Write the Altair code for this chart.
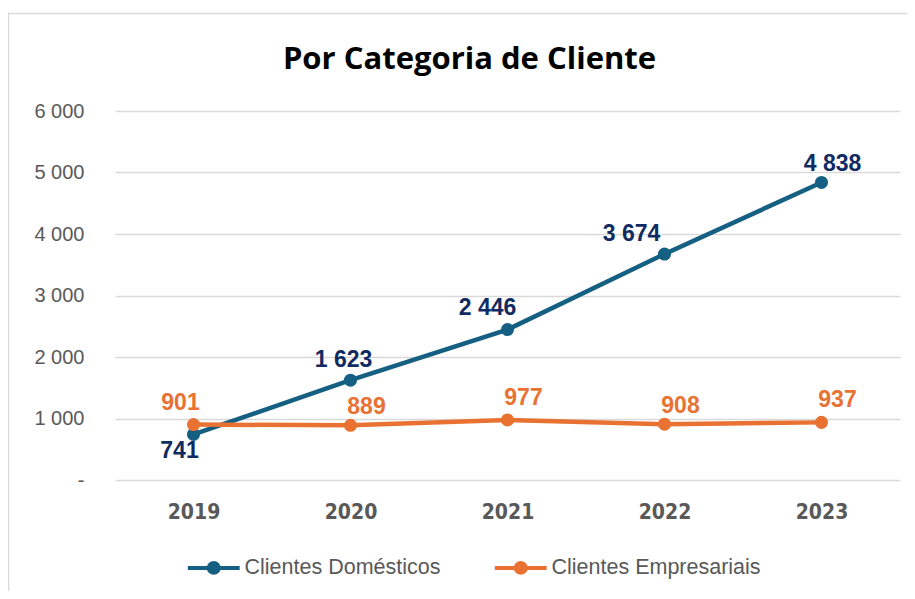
import altair as alt
import pandas as pd

# ---- data ----
years = ["2019", "2020", "2021", "2022", "2023"]
series_names = ["Clientes Domésticos", "Clientes Empresariais"]
domesticos = [741, 1623, 2446, 3674, 4838]
empresariais = [901, 889, 977, 908, 937]
y_ticks = [0, 1000, 2000, 3000, 4000, 5000, 6000]

rows = []
for s, vals in zip(series_names, [domesticos, empresariais]):
    for yr, v in zip(years, vals):
        rows.append({"Ano": yr, "Serie": s, "Valor": v,
                     "Label": f"{v:,}".replace(",", " ")})
df = pd.DataFrame(rows)

# ---- style ----
line_colors = ["#156082", "#E97132"]
label_colors = {"Clientes Domésticos": "#0F2B62", "Clientes Empresariais": "#E97132"}
# label offsets (dx, dy) per series, per year
label_offsets = {
    "Clientes Domésticos": [(-14, 17), (-7, -20), (-20, -22), (-33, -20), (11, -18)],
    "Clientes Empresariais": [(-13, -22), (16, -18), (16, -22), (16, -18), (16, -22)],
}

W, H = 785, 369
legend_path = (
    "M-3.7,0 L3.7,0 "
    "M0.71,0 A0.71,0.71 0 1,1 -0.71,0 A0.71,0.71 0 1,1 0.71,0 "
    "M0.22,0 A0.22,0.22 0 1,1 -0.22,0 A0.22,0.22 0 1,1 0.22,0"
)

x_enc = alt.X("Ano:N", sort=years,
              scale=alt.Scale(padding=0.5),
              axis=alt.Axis(title=None, domain=False, ticks=False, grid=False,
                            labelAngle=0,
                            labelFont="'DejaVu Sans Condensed', 'Liberation Sans'",
                            labelFontWeight="bold", labelFontSize=21,
                            labelColor="#595959", labelPadding=21))
y_enc = alt.Y("Valor:Q",
              scale=alt.Scale(domain=[0, 6000], nice=False),
              axis=alt.Axis(title=None, domain=False, ticks=False,
                            values=y_ticks, gridColor="#D9D9D9", gridWidth=1.5,
                            labelFont="Liberation Sans", labelFontSize=20,
                            labelColor="#595959", labelPadding=31,
                            labelExpr="datum.value == 0 ? '-    ' : replace(format(datum.value, ',d'), ',', ' ')"))
color_scale = alt.Scale(domain=series_names, range=line_colors)

base = alt.Chart(df).encode(x=x_enc, y=y_enc)

border = alt.Chart(pd.DataFrame({"k": [0]})).mark_rect(
    fill="transparent", stroke="#D9D9D9", strokeWidth=1.5
).encode(x=alt.value(-106.5), x2=alt.value(W + 200),
         y=alt.value(-97.5), y2=alt.value(H + 300))

lines = base.mark_line(strokeWidth=4.5).encode(
    color=alt.Color("Serie:N", scale=color_scale, sort=series_names,
                    legend=alt.Legend(title=None, orient="none", direction="horizontal",
                                      legendX=88, legendY=446,
                                      symbolType=legend_path, symbolSize=196,
                                      symbolStrokeWidth=4, labelOffset=20,
                                      columnPadding=45, labelLimit=400,
                                      labelFont="Liberation Sans", labelFontSize=21.5,
                                      labelColor="#595959"))
)
points = base.mark_point(filled=True, size=170, opacity=1).encode(
    color=alt.Color("Serie:N", scale=color_scale, legend=None)
)

label_layers = []
for s in series_names:
    for yr, (dx, dy) in zip(years, label_offsets[s]):
        label_layers.append(
            base.transform_filter((alt.datum.Serie == s) & (alt.datum.Ano == yr))
            .mark_text(dx=dx, dy=dy, font="Liberation Sans", fontWeight="bold",
                       fontSize=23, color=label_colors[s], align="center",
                       baseline="middle")
            .encode(text="Label:N")
        )

chart = alt.layer(border, lines, points, *label_layers).properties(
    width=W, height=H,
    title=alt.TitleParams("Por Categoria de Cliente", font="Open Sans", fontSize=31,
                          fontWeight="bold", color="#000000", anchor="middle",
                          frame="group", dx=-38, offset=-87, baseline="alphabetic"),
    autosize=alt.AutoSizeParams(type="none"),
    padding={"left": 107, "top": 103, "right": 7, "bottom": 111},
    background="white",
).configure_view(stroke=None)

chart.save("out.html", embed_options={"renderer": "svg", "actions": False})
